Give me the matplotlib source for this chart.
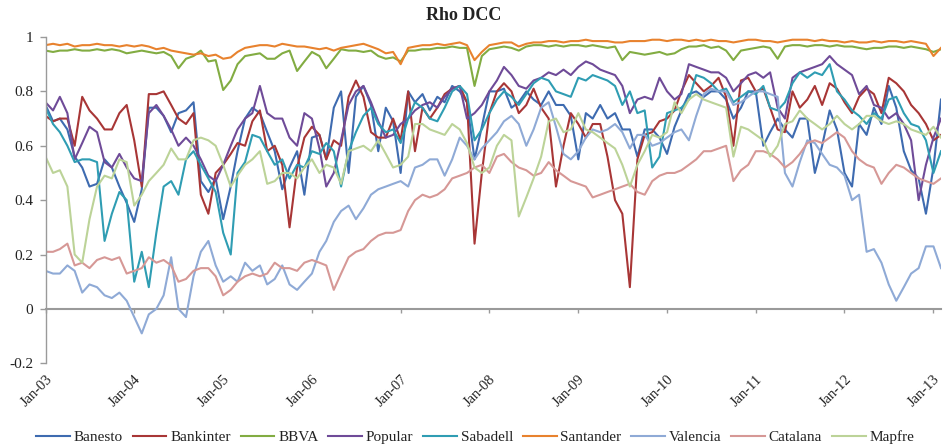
import matplotlib
matplotlib.use('Agg')
import matplotlib.pyplot as plt
import pandas as pd

plt.rcParams['font.family'] = ['Liberation Serif', 'DejaVu Serif']

# ---------------- data (monthly readings, Jan-2003 .. Feb-2013) ----------------
dates = pd.date_range('2003-01-01', periods=122, freq='MS')

banesto = [0.75,0.69,0.70,0.66,0.56,0.52,0.45,0.46,0.55,0.52,
           0.45,0.39,0.32,0.44,0.74,0.74,0.71,0.65,0.72,0.73,
           0.76,0.47,0.43,0.48,0.33,0.45,0.58,0.70,0.74,0.72,
           0.65,0.58,0.44,0.52,0.58,0.42,0.63,0.64,0.55,0.74,
           0.80,0.50,0.78,0.82,0.75,0.58,0.74,0.69,0.50,0.80,
           0.76,0.79,0.73,0.78,0.76,0.82,0.80,0.76,0.55,0.67,
           0.80,0.80,0.81,0.74,0.76,0.80,0.77,0.75,0.80,0.75,
           0.75,0.71,0.55,0.72,0.70,0.75,0.70,0.72,0.66,0.66,
           0.56,0.66,0.66,0.63,0.57,0.67,0.73,0.79,0.80,0.78,
           0.80,0.80,0.77,0.70,0.74,0.80,0.80,0.60,0.65,0.70,
           0.66,0.63,0.70,0.70,0.50,0.60,0.73,0.66,0.50,0.45,
           0.68,0.64,0.74,0.68,0.82,0.74,0.58,0.51,0.48,0.35,
           0.52,0.77]

bankinter = [0.71,0.69,0.70,0.70,0.60,0.78,0.73,0.70,0.66,0.66,
             0.72,0.75,0.62,0.45,0.79,0.79,0.80,0.75,0.70,0.68,
             0.72,0.42,0.35,0.50,0.53,0.57,0.61,0.60,0.69,0.73,
             0.58,0.60,0.53,0.30,0.52,0.63,0.67,0.64,0.55,0.62,
             0.60,0.78,0.84,0.78,0.65,0.63,0.63,0.70,0.62,0.80,
             0.58,0.74,0.70,0.74,0.79,0.81,0.82,0.76,0.24,0.50,
             0.72,0.80,0.83,0.80,0.72,0.75,0.81,0.74,0.70,0.45,
             0.60,0.72,0.68,0.63,0.68,0.68,0.56,0.40,0.35,0.08,
             0.55,0.64,0.65,0.69,0.70,0.73,0.80,0.86,0.83,0.80,
             0.82,0.85,0.78,0.60,0.84,0.85,0.80,0.81,0.74,0.66,
             0.65,0.80,0.74,0.77,0.82,0.75,0.83,0.81,0.76,0.72,
             0.78,0.81,0.79,0.72,0.85,0.83,0.80,0.75,0.72,0.68,
             0.62,0.64]

bbva = [0.95,0.945,0.95,0.95,0.955,0.95,0.95,0.955,0.95,0.955,
        0.95,0.94,0.945,0.95,0.945,0.94,0.945,0.93,0.885,0.92,
        0.93,0.95,0.91,0.915,0.805,0.84,0.90,0.93,0.935,0.94,
        0.92,0.92,0.94,0.95,0.875,0.91,0.945,0.93,0.885,0.92,
        0.955,0.95,0.95,0.945,0.95,0.93,0.92,0.925,0.91,0.95,
        0.95,0.955,0.955,0.96,0.96,0.965,0.96,0.96,0.82,0.93,
        0.955,0.96,0.965,0.96,0.95,0.965,0.97,0.97,0.965,0.97,
        0.965,0.97,0.97,0.965,0.97,0.965,0.96,0.965,0.915,0.945,
        0.94,0.935,0.94,0.945,0.935,0.94,0.955,0.965,0.965,0.97,
        0.96,0.965,0.95,0.915,0.95,0.955,0.96,0.965,0.96,0.92,
        0.965,0.97,0.97,0.965,0.97,0.97,0.965,0.97,0.965,0.965,
        0.96,0.955,0.96,0.96,0.965,0.965,0.96,0.965,0.96,0.955,
        0.945,0.955]

popular = [0.76,0.73,0.78,0.72,0.55,0.61,0.67,0.65,0.54,0.52,
           0.57,0.52,0.48,0.47,0.72,0.75,0.71,0.66,0.60,0.63,
           0.60,0.55,0.49,0.47,0.53,0.60,0.66,0.70,0.72,0.82,
           0.72,0.70,0.70,0.63,0.60,0.72,0.70,0.59,0.45,0.50,
           0.62,0.75,0.80,0.82,0.76,0.69,0.63,0.64,0.68,0.70,
           0.73,0.75,0.76,0.74,0.78,0.81,0.82,0.70,0.72,0.75,
           0.80,0.84,0.89,0.86,0.82,0.81,0.84,0.85,0.87,0.86,
           0.88,0.86,0.89,0.91,0.90,0.88,0.87,0.86,0.82,0.72,
           0.77,0.78,0.77,0.85,0.80,0.77,0.79,0.90,0.89,0.88,
           0.87,0.87,0.85,0.80,0.83,0.86,0.87,0.85,0.87,0.74,
           0.70,0.85,0.87,0.88,0.89,0.90,0.93,0.90,0.88,0.86,
           0.79,0.82,0.75,0.74,0.70,0.72,0.68,0.62,0.40,0.53,
           0.63,0.70]

sabadell = [0.74,0.68,0.65,0.60,0.54,0.55,0.55,0.54,0.25,0.35,
            0.43,0.40,0.10,0.21,0.08,0.28,0.45,0.47,0.42,0.55,
            0.58,0.53,0.48,0.43,0.28,0.20,0.50,0.54,0.64,0.63,
            0.58,0.53,0.55,0.48,0.53,0.52,0.58,0.57,0.61,0.58,
            0.45,0.58,0.65,0.71,0.74,0.68,0.65,0.66,0.61,0.70,
            0.76,0.74,0.70,0.69,0.74,0.80,0.82,0.79,0.62,0.66,
            0.72,0.77,0.80,0.78,0.75,0.79,0.83,0.85,0.84,0.80,
            0.79,0.78,0.85,0.84,0.86,0.85,0.84,0.82,0.75,0.80,
            0.72,0.73,0.52,0.56,0.72,0.73,0.74,0.77,0.86,0.85,
            0.83,0.80,0.81,0.76,0.78,0.80,0.79,0.82,0.74,0.73,
            0.76,0.83,0.87,0.85,0.87,0.86,0.90,0.80,0.77,0.73,
            0.71,0.68,0.72,0.70,0.77,0.78,0.72,0.68,0.67,0.62,
            0.50,0.58]

santander = [0.97,0.975,0.97,0.975,0.965,0.97,0.97,0.975,0.97,0.97,
             0.965,0.97,0.965,0.97,0.965,0.955,0.96,0.95,0.945,0.94,
             0.935,0.94,0.93,0.935,0.92,0.925,0.945,0.96,0.965,0.97,
             0.97,0.965,0.975,0.97,0.965,0.965,0.96,0.955,0.96,0.95,
             0.96,0.965,0.97,0.975,0.965,0.955,0.94,0.945,0.90,0.96,
             0.965,0.97,0.97,0.975,0.97,0.975,0.98,0.97,0.915,0.945,
             0.97,0.975,0.98,0.98,0.965,0.975,0.98,0.98,0.985,0.985,
             0.98,0.985,0.985,0.99,0.985,0.985,0.985,0.98,0.98,0.985,
             0.985,0.985,0.99,0.99,0.985,0.99,0.99,0.985,0.99,0.985,
             0.99,0.985,0.985,0.98,0.985,0.99,0.99,0.985,0.985,0.98,
             0.985,0.99,0.99,0.99,0.985,0.99,0.985,0.985,0.98,0.985,
             0.98,0.98,0.985,0.98,0.985,0.985,0.98,0.985,0.98,0.975,
             0.93,0.96]

valencia = [0.14,0.13,0.13,0.16,0.14,0.06,0.09,0.08,0.05,0.04,
            0.06,0.03,-0.03,-0.09,-0.02,0.00,0.05,0.19,0.00,-0.03,
            0.12,0.21,0.25,0.16,0.10,0.12,0.10,0.17,0.14,0.16,
            0.09,0.11,0.16,0.09,0.07,0.10,0.13,0.21,0.25,0.32,
            0.36,0.38,0.33,0.37,0.42,0.44,0.45,0.46,0.47,0.45,
            0.52,0.53,0.55,0.55,0.49,0.55,0.63,0.60,0.55,0.59,
            0.62,0.65,0.69,0.71,0.68,0.60,0.66,0.74,0.76,0.67,
            0.57,0.55,0.58,0.63,0.66,0.65,0.66,0.68,0.65,0.59,
            0.64,0.64,0.60,0.61,0.63,0.65,0.66,0.62,0.71,0.79,
            0.81,0.80,0.80,0.75,0.76,0.78,0.80,0.80,0.79,0.78,
            0.50,0.45,0.54,0.62,0.61,0.57,0.53,0.52,0.49,0.40,
            0.42,0.21,0.22,0.17,0.09,0.03,0.08,0.13,0.15,0.23,
            0.23,0.15]

catalana = [0.21,0.21,0.22,0.24,0.16,0.17,0.15,0.18,0.19,0.18,
            0.19,0.13,0.14,0.15,0.19,0.17,0.18,0.16,0.10,0.11,
            0.14,0.15,0.15,0.12,0.05,0.07,0.10,0.12,0.13,0.12,
            0.13,0.17,0.15,0.15,0.14,0.17,0.18,0.17,0.16,0.07,
            0.13,0.19,0.21,0.22,0.25,0.27,0.28,0.28,0.29,0.36,
            0.40,0.42,0.41,0.42,0.44,0.48,0.49,0.50,0.52,0.53,
            0.50,0.56,0.57,0.54,0.52,0.51,0.49,0.50,0.54,0.51,
            0.49,0.47,0.46,0.45,0.41,0.42,0.43,0.44,0.45,0.46,
            0.43,0.42,0.47,0.49,0.50,0.50,0.51,0.53,0.55,0.58,
            0.58,0.59,0.60,0.47,0.51,0.53,0.58,0.58,0.57,0.55,
            0.52,0.54,0.57,0.61,0.62,0.61,0.63,0.65,0.63,0.58,
            0.55,0.53,0.52,0.46,0.50,0.53,0.52,0.50,0.48,0.47,
            0.46,0.48]

mapfre = [0.56,0.50,0.51,0.45,0.20,0.17,0.33,0.45,0.49,0.48,
          0.55,0.54,0.38,0.42,0.47,0.50,0.53,0.59,0.55,0.55,
          0.62,0.63,0.62,0.60,0.53,0.45,0.49,0.53,0.55,0.58,
          0.46,0.47,0.50,0.50,0.48,0.52,0.55,0.50,0.53,0.52,
          0.46,0.58,0.59,0.60,0.58,0.62,0.57,0.52,0.53,0.56,
          0.68,0.68,0.66,0.65,0.64,0.68,0.66,0.61,0.52,0.50,
          0.52,0.60,0.64,0.62,0.34,0.41,0.48,0.56,0.69,0.70,
          0.65,0.66,0.72,0.66,0.65,0.63,0.61,0.59,0.53,0.45,
          0.53,0.58,0.64,0.63,0.65,0.76,0.72,0.77,0.79,0.77,
          0.76,0.75,0.74,0.56,0.67,0.66,0.64,0.62,0.56,0.60,
          0.68,0.69,0.73,0.70,0.68,0.66,0.68,0.71,0.68,0.66,
          0.68,0.71,0.71,0.69,0.68,0.69,0.68,0.66,0.65,0.64,
          0.67,0.63]

names = ['Banesto', 'Bankinter', 'BBVA', 'Popular', 'Sabadell',
         'Santander', 'Valencia', 'Catalana', 'Mapfre']
series = [banesto, bankinter, bbva, popular, sabadell,
          santander, valencia, catalana, mapfre]
colors = ['#3E6BB0', '#A83636', '#82AC42', '#6F4B98', '#2F9DB3',
          '#E8822E', '#8FAAD6', '#D69896', '#BCD398']

ytick_vals = [-0.2, 0, 0.2, 0.4, 0.6, 0.8, 1]
ytick_labels = ['-0.2', '0', '0.2', '0.4', '0.6', '0.8', '1']
xtick_dates = pd.date_range('2003-01-01', '2013-01-01', freq='YS')
xtick_labels = ['Jan-03', 'Jan-04', 'Jan-05', 'Jan-06', 'Jan-07', 'Jan-08',
                'Jan-09', 'Jan-10', 'Jan-11', 'Jan-12', 'Jan-13']

# ---------------- figure ----------------
W, H = 947, 448
fig = plt.figure(figsize=(W / 100, H / 100), dpi=100)
ax = fig.add_axes([45.5 / W, (H - 363.3) / H, (941 - 45.5) / W, (363.3 - 37) / H])

for name, vals, col in zip(names, series, colors):
    ax.plot(dates, vals, color=col, lw=1.5, label=name, solid_joinstyle='round')

ax.set_xlim(dates[0], dates[-1])
ax.set_ylim(-0.2, 1)

axis_col = '#9A9A9A'
for s in ['top', 'right']:
    ax.spines[s].set_visible(False)
ax.spines['left'].set_color(axis_col)
ax.spines['left'].set_linewidth(1.0)
ax.spines['bottom'].set_position(('data', 0))
ax.spines['bottom'].set_color(axis_col)
ax.spines['bottom'].set_linewidth(1.5)
ax.spines['bottom'].set_zorder(0.5)

ax.set_yticks(ytick_vals)
ax.set_yticklabels(ytick_labels)
ax.tick_params(axis='y', direction='out', length=4, width=1, color=axis_col,
               labelsize=11, pad=5, labelcolor='#222222')

ax.set_xticks(xtick_dates)
ax.set_xticklabels(xtick_labels, rotation=45, ha='right', rotation_mode='anchor')
ax.tick_params(axis='x', direction='out', length=3, width=1, color=axis_col,
               labelsize=10.5, pad=43, labelcolor='#222222')

fig.text(0.49, 1 - 16 / H, 'Rho DCC', ha='center', va='center',
         fontsize=13, fontweight='bold', color='#222222')

fig.legend(loc='center', bbox_to_anchor=(0.502, 1 - 437 / H), ncol=9,
           frameon=False, handlelength=2.2, handletextpad=0.25,
           columnspacing=0.65, fontsize=11, labelcolor='#222222')

fig.savefig('out.png', dpi=100)
